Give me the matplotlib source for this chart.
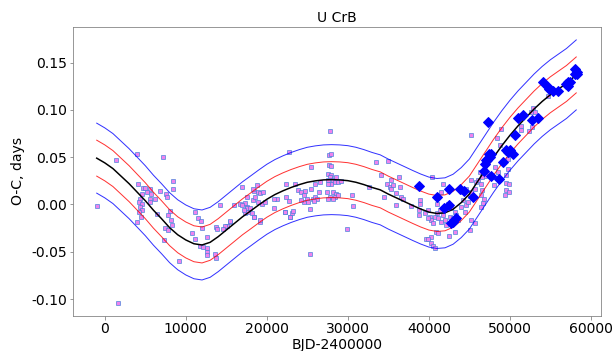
import numpy as np
import matplotlib
matplotlib.use("Agg")
import matplotlib.pyplot as plt

# ---- data ----
sq_x = [-990, 1400, 1600, 3940, 7230,
        4150, 4680, 4980, 5590, 4560, 5180, 5720, 4360, 4240, 4560, 4360, 4560, 4240, 4480, 3940,
        5590, 5590, 6210, 6820, 8470, 8470, 7570, 7640, 6410, 8060, 7850, 8180, 8260, 7440, 7850, 7360, 9210,
        11140, 11550, 11880, 12040, 10810, 11140, 12570, 11760, 12160, 12570, 12660, 12570, 13680, 13800,
        13600, 13680, 14220,
        15490, 15080, 19190, 18360, 17340, 17550, 16720, 15900, 22270, 22890, 23100, 25350,
        21250, 24530, 25760, 27400,
        14830, 14630, 15450, 16970, 17500, 17300, 17500, 17220, 17710, 18120, 18450, 17920, 18330, 18530,
        18450, 18860, 19150, 19560, 18730, 18330, 18940, 19350, 19770, 19150, 16890, 20910, 20910, 22430,
        22720, 22430, 22720, 22230, 22850, 23260, 23540, 23790, 24200, 24700, 24610, 24900, 24280, 25110,
        25310, 25930, 26250, 25840, 25510, 25930, 25440, 26550, 26420,
        27700, 27980, 27850, 27650, 27980, 27570, 27980, 27780, 27570, 28190, 27980, 28400, 28590, 28800,
        29210, 27570, 28190, 28590, 28400, 27780, 28190, 28800, 27570, 29950,
        30530, 30650, 32590, 33520, 34960, 34060, 34880, 35300, 36280, 35170, 35580, 35370, 34470, 35990,
        36610, 36810, 35990, 37760, 38870, 38870, 38750, 38790, 36450,
        39490, 39890, 40100, 40300, 39890, 40510, 40720, 41040, 41130, 41530, 41330, 41740, 41950, 42150,
        40920, 41130, 40300, 39610, 39890, 40230, 40510, 40800, 40380, 41740, 41530, 41040, 42360, 42770,
        43180, 42560, 42970, 43380, 43590, 42440, 43260,
        44000, 44210, 44620, 44820, 45030, 45230, 45650, 45850, 46060, 45230, 46260, 45150, 44620, 44210,
        44410, 45230, 45650, 45030,
        48930, 48440, 48730, 52830, 52620, 53120, 51320, 51320, 52420, 52710, 54680, 55180, 49760, 49760,
        48110, 48520, 48030, 47290, 46880, 49550, 49550, 49880, 49470, 49840, 49420, 46470, 46550, 46470,
        46800, 46670, 46390, 46550]
sq_y = [-0.0015, 0.047, -0.104, 0.053, 0.050,
        0.022, 0.0175, 0.0175, 0.0168, 0.0116, 0.0133, 0.0116, 0.0063, 0.0027, 0.001, -0.0025, -0.006, -0.0078, -0.013, -0.019,
        0.0063, 0.0027, 0.0053, 0.0143, 0.025, 0.0168, 0.0116, 0.0074, -0.0102, -0.0067, -0.0113, -0.0165, -0.0218, -0.0253, -0.027, -0.0376, -0.060,
        -0.0078, -0.0147, -0.0173, -0.0253, -0.0305, -0.0368, -0.034, -0.044, -0.0446, -0.046, -0.050, -0.0535, -0.0236, -0.0263,
        -0.0526, -0.057, -0.0007,
        -0.0183, -0.0228, -0.0183, -0.013, -0.0095, -0.0025, 0.001, -0.0007, -0.0084, -0.013, -0.0088, -0.052,
        0.0053, 0.0028, 0.0063, 0.0133,
        -0.0228, -0.026, -0.0176, 0.0185, 0.008, 0.0017, -0.0042, -0.006, -0.0078, -0.0095, -0.013, -0.0032, 0.0045, 0.008,
        0.0143, 0.0133, 0.0122, 0.0133, 0.0203, 0.0168, 0.0027, 0.001, 0.0027, -0.0165, -0.0007, 0.0053, -0.0042, 0.022,
        0.0554, 0.008, 0.0035, -0.0078, -0.013, -0.0067, 0.0214, 0.015, 0.0133, 0.014, 0.0098, 0.0063, 0.0045, 0.0027,
        -0.005, 0.008, 0.0053, 0.0032, 0.0168, 0.0214, 0.040, 0.0238, 0.0133,
        0.0519, 0.0537, 0.0775, 0.0414, 0.0403, 0.0326, 0.0308, 0.029, 0.0256, 0.0256, 0.022, 0.0238, 0.029, 0.0238,
        0.0248, 0.022, 0.0133, 0.0116, 0.008, 0.008, 0.0063, 0.0098, 0.0063, -0.026,
        0.0098, -0.0018, 0.018, 0.0445, 0.0456, 0.0316, 0.022, 0.0263, 0.029, 0.0185, 0.0203, 0.0168, 0.0074, 0.0122,
        0.008, 0.0063, -0.0007, -0.0018, 0.0045, 0.001, -0.006, -0.0113, 0.0185,
        -0.0088, -0.006, -0.013, -0.0165, -0.0147, -0.020, -0.013, -0.0095, -0.0147, -0.0183, -0.006, -0.0113, -0.0165, -0.0218,
        -0.0288, -0.0305, -0.034, -0.0368, -0.0368, -0.041, -0.0439, -0.0457, 0.029, 0.022, 0.0133, 0.001, 0.001, -0.0042,
        -0.0078, -0.013, -0.0147, -0.0113, -0.0165, -0.0334, -0.0288,
        -0.0025, 0.0045, -0.0007, 0.0027, 0.0087, 0.0133, 0.0168, 0.0238, 0.0263, 0.0256, 0.0343, 0.073, 0.0168, 0.0133,
        -0.0078, -0.0165, -0.020, -0.027,
        0.080, 0.0705, 0.0624, 0.102, 0.0975, 0.0975, 0.0835, 0.079, 0.078, 0.0817, 0.115, 0.1185, 0.0484, 0.0379,
        0.0396, 0.0343, 0.0203, 0.0326, 0.0298, 0.031, 0.0227, 0.022, 0.015, 0.0133, 0.0098, 0.022, 0.015, 0.0098,
        0.0063, 0.0017, -0.0025, 0.029]

dia_x = [38830, 41040, 42460, 41820, 42540, 43910, 44370, 45460, 43300, 43000, 42780,
         47310, 54130, 54890, 55300, 55920, 54680, 56940, 57230, 57480, 57150, 58050, 58260, 58100, 58290,
         51000, 51620, 52700, 53470, 50590, 49570, 49780, 50350, 49980, 49150,
         47700, 47500, 47080, 46880, 46850, 47450, 47130, 47680, 48700]
dia_y = [0.0193, 0.0074, 0.0166, -0.0042, -0.0007, 0.0163, 0.0143, 0.0080, -0.0147, -0.0183, -0.0197,
         0.0874, 0.130, 0.122, 0.120, 0.1196, 0.1238, 0.1274, 0.129, 0.130, 0.1256, 0.143, 0.1406, 0.138, 0.1385,
         0.0914, 0.0945, 0.0897, 0.0912, 0.0735, 0.0576, 0.0554, 0.0537, 0.0572, 0.0449,
         0.053, 0.050, 0.0466, 0.0432, 0.0355, 0.0537, 0.0466, 0.0300, 0.027]

curve_x = [-1000, 0, 1000, 2000, 3000, 4000, 5000, 6000, 7000, 8000, 9000, 10000, 11000, 12000, 13000,
           14000, 15000, 16000, 17000, 18000, 19000, 20000, 21000, 22000, 23000, 24000, 25000, 26000,
           27000, 28000, 29000, 30000, 31000, 32000, 33000, 34000, 35000, 36000, 37000, 38000, 39000,
           40000, 41000, 42000, 43000, 44000, 45000, 46000, 47000, 48000, 49000, 50000, 51000, 52000,
           53000, 54000, 55000, 56000, 57000, 58200]
curve_y = [0.049, 0.044, 0.038, 0.030, 0.022, 0.013, 0.004, -0.006, -0.015, -0.0245, -0.032, -0.0375,
           -0.0415, -0.0428, -0.040, -0.034, -0.027, -0.020, -0.013, -0.0068, -0.0005, 0.0055, 0.0105,
           0.0145, 0.018, 0.021, 0.0235, 0.025, 0.026, 0.0263, 0.026, 0.0252, 0.0235, 0.021, 0.018,
           0.0155, 0.011, 0.007, 0.003, -0.001, -0.0048, -0.008, -0.0095, -0.0088, -0.005, 0.002, 0.011,
           0.024, 0.037, 0.050, 0.062, 0.073, 0.083, 0.092, 0.101, 0.109, 0.116, 0.122, 0.128, 0.137]
band_red = 0.019
band_blue = 0.037

title = "U CrB"
xlabel = "BJD-2400000"
ylabel = "O-C, days"

# ---- plot ----
plt.rcParams['font.family'] = ['DejaVu Sans']
DPI = 72
fig = plt.figure(figsize=(614 / DPI, 351 / DPI), dpi=DPI)
ax = fig.add_axes([0.1184, 0.0997, 0.8604, 0.824])

cx = np.array(curve_x)
cy = np.array(curve_y)

ax.plot(sq_x, sq_y, 's', ms=4.5, mfc='violet', mec=(0.25, 0.5, 0.85, 0.65), mew=1.0, zorder=2)
ax.plot(cx, cy + band_blue, '-', color='blue', lw=1.0, alpha=0.8, zorder=3)
ax.plot(cx, cy - band_blue, '-', color='blue', lw=1.0, alpha=0.8, zorder=3)
ax.plot(cx, cy + band_red, '-', color='red', lw=1.0, alpha=0.8, zorder=3)
ax.plot(cx, cy - band_red, '-', color='red', lw=1.0, alpha=0.8, zorder=3)
ax.plot(cx, cy, '-', color='black', lw=1.5, zorder=3)
ax.plot(dia_x, dia_y, 'D', ms=7.5, color='blue', zorder=4)

ax.set_title(title, fontsize=14, pad=5)
ax.set_xlabel(xlabel, fontsize=14, labelpad=2)
ax.set_ylabel(ylabel, fontsize=14, labelpad=6)
ax.tick_params(labelsize=14, color='#808080', length=3.5, pad=2.5)
for s in ax.spines.values():
    s.set_color('#808080')
ax.set_xticks([0, 10000, 20000, 30000, 40000, 50000, 60000])
ax.set_yticks([-0.10, -0.05, 0.00, 0.05, 0.10, 0.15])
ax.yaxis.set_major_formatter(matplotlib.ticker.FormatStrFormatter('%.2f'))

fig.savefig("out.png", dpi=DPI)
